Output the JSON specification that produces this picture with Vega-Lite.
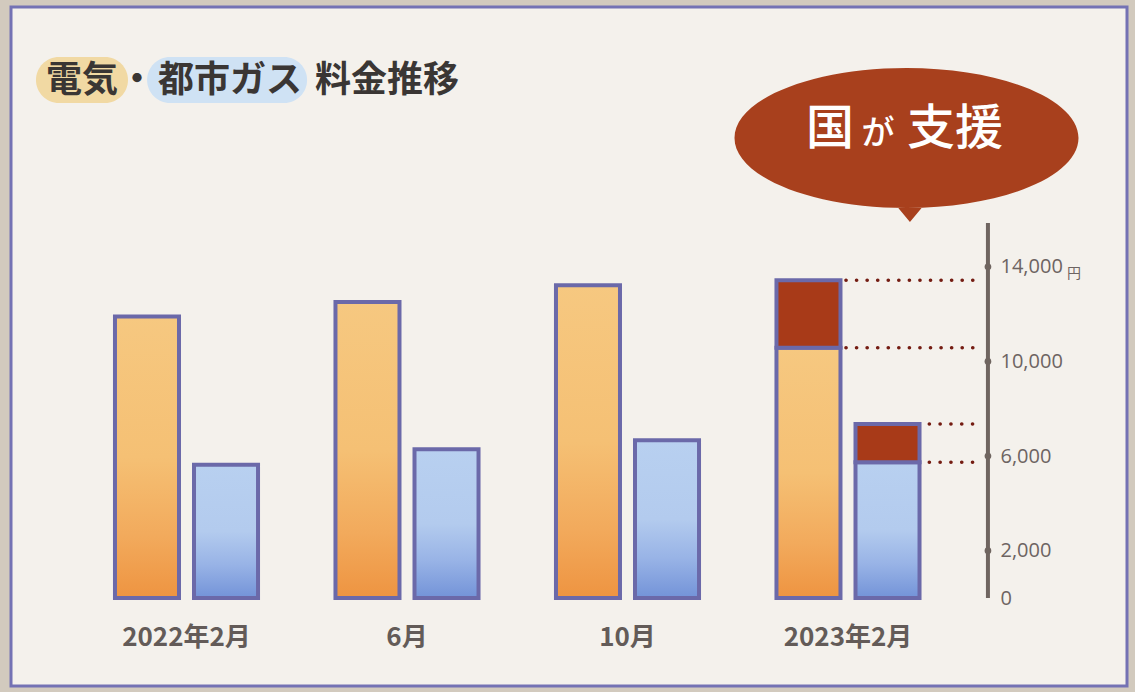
{
  "$schema": "https://vega.github.io/schema/vega-lite/v6.json",
  "width": 1116,
  "height": 679,
  "autosize": {"type": "none"},
  "padding": {"left": 11, "top": 7, "right": 8, "bottom": 6},
  "background": "#d2cabe",
  "config": {
    "view": {"fill": "#f4f1ec", "stroke": "#7472b4", "strokeWidth": 3},
    "axis": {"grid": false}
  },
  "datasets": {
    "bars": [
      {"month": "2022年2月", "kind": "電気", "part": "料金", "value": 11900},
      {"month": "2022年2月", "kind": "都市ガス", "part": "料金", "value": 5630},
      {"month": "6月", "kind": "電気", "part": "料金", "value": 12510},
      {"month": "6月", "kind": "都市ガス", "part": "料金", "value": 6285},
      {"month": "10月", "kind": "電気", "part": "料金", "value": 13215},
      {"month": "10月", "kind": "都市ガス", "part": "料金", "value": 6665},
      {"month": "2023年2月", "kind": "電気", "part": "料金", "value": 10580},
      {"month": "2023年2月", "kind": "電気", "part": "支援", "value": 2848},
      {"month": "2023年2月", "kind": "都市ガス", "part": "料金", "value": 5735},
      {"month": "2023年2月", "kind": "都市ガス", "part": "支援", "value": 1619}
    ],
    "ticks": [{"value": 2000}, {"value": 6000}, {"value": 10000}, {"value": 14000}],
    "one": [{}]
  },
  "layer": [
    {
      "data": {"name": "one"},
      "mark": {"type": "point", "shape": "M -0.5 -0.5 L 0.5 -0.5 A 0.5 0.5 0 0 1 0.5 0.5 L -0.5 0.5 A 0.5 0.5 0 0 1 -0.5 -0.5 Z", "size": 8464, "filled": true, "fill": "#f1d9a3", "opacity": 1, "strokeWidth": 0},
      "encoding": {
        "x": {"datum": "2022年2月", "type": "nominal", "bandPosition": -0.211, "axis": {"title": null}},
        "y": {"datum": 21893, "type": "quantitative", "axis": {"title": null}}
      }
    },
    {
      "data": {"name": "one"},
      "mark": {"type": "point", "shape": "M -0.7125 -0.2875 L 0.7125 -0.2875 A 0.2875 0.2875 0 0 1 0.7125 0.2875 L -0.7125 0.2875 A 0.2875 0.2875 0 0 1 -0.7125 -0.2875 Z", "size": 25600, "filled": true, "fill": "#cfe2f4", "opacity": 1, "strokeWidth": 0},
      "encoding": {
        "x": {"datum": "2022年2月", "type": "nominal", "bandPosition": 0.776, "axis": {"title": null}},
        "y": {"datum": 21893, "type": "quantitative", "axis": {"title": null}}
      }
    },
    {
      "data": {"name": "one"},
      "mark": {"type": "text", "text": "電気", "align": "left", "baseline": "middle", "font": "Noto Sans CJK JP", "fontWeight": "bold", "fontSize": 36, "color": "#3a3634"},
      "encoding": {
        "x": {"datum": "2022年2月", "type": "nominal", "bandPosition": -0.456, "axis": {"title": null}},
        "y": {"datum": 21850, "type": "quantitative", "axis": {"title": null}}
      }
    },
    {
      "data": {"name": "one"},
      "mark": {"type": "text", "text": "・", "align": "center", "baseline": "middle", "font": "Noto Sans CJK JP", "fontWeight": "bold", "fontSize": 36, "color": "#3a3634"},
      "encoding": {
        "x": {"datum": "2022年2月", "type": "nominal", "bandPosition": 0.163, "axis": {"title": null}},
        "y": {"datum": 21850, "type": "quantitative", "axis": {"title": null}}
      }
    },
    {
      "data": {"name": "one"},
      "mark": {"type": "text", "text": "都市ガス", "align": "left", "baseline": "middle", "font": "Noto Sans CJK JP", "fontWeight": "bold", "fontSize": 36, "color": "#3a3634"},
      "encoding": {
        "x": {"datum": "2022年2月", "type": "nominal", "bandPosition": 0.306, "axis": {"title": null}},
        "y": {"datum": 21850, "type": "quantitative", "axis": {"title": null}}
      }
    },
    {
      "data": {"name": "one"},
      "mark": {"type": "text", "text": "料金推移", "align": "left", "baseline": "middle", "font": "Noto Sans CJK JP", "fontWeight": "bold", "fontSize": 36, "color": "#3a3634"},
      "encoding": {
        "x": {"datum": "2022年2月", "type": "nominal", "bandPosition": 1.374, "axis": {"title": null}},
        "y": {"datum": 21850, "type": "quantitative", "axis": {"title": null}}
      }
    },
    {
      "data": {"name": "one"},
      "mark": {"type": "point", "shape": "M -1 0 A 1 0.407 0 1 1 1 0 A 1 0.407 0 1 1 -1 0 Z M 0.095 0.398 L 0.02 0.488 L -0.055 0.398 Z", "size": 118336, "filled": true, "fill": "#a8401d", "opacity": 1, "strokeWidth": 0},
      "encoding": {
        "x": {"datum": "2023年2月", "type": "nominal", "bandPosition": 0.898, "axis": {"title": null}},
        "y": {"datum": 19442, "type": "quantitative", "axis": {"title": null}}
      }
    },
    {
      "data": {"name": "one"},
      "mark": {"type": "text", "text": "国", "align": "center", "baseline": "middle", "font": "Noto Sans CJK JP", "fontWeight": 500, "fontSize": 48, "color": "#ffffff"},
      "encoding": {
        "x": {"datum": "2023年2月", "type": "nominal", "bandPosition": 0.377, "axis": {"title": null}},
        "y": {"datum": 19801, "type": "quantitative", "axis": {"title": null}}
      }
    },
    {
      "data": {"name": "one"},
      "mark": {"type": "text", "text": "が", "align": "center", "baseline": "middle", "font": "Noto Sans CJK JP", "fontWeight": 500, "fontSize": 33, "color": "#ffffff"},
      "encoding": {
        "x": {"datum": "2023年2月", "type": "nominal", "bandPosition": 0.704, "axis": {"title": null}},
        "y": {"datum": 19611, "type": "quantitative", "axis": {"title": null}}
      }
    },
    {
      "data": {"name": "one"},
      "mark": {"type": "text", "text": "支援", "align": "center", "baseline": "middle", "font": "Noto Sans CJK JP", "fontWeight": 500, "fontSize": 48, "color": "#ffffff"},
      "encoding": {
        "x": {"datum": "2023年2月", "type": "nominal", "bandPosition": 1.228, "axis": {"title": null}},
        "y": {"datum": 19801, "type": "quantitative", "axis": {"title": null}}
      }
    },
    {
      "data": {"name": "bars"},
      "transform": [
        {"stack": "value", "groupby": ["month", "kind"], "sort": [{"field": "part", "order": "descending"}], "as": ["y0", "y1"]},
        {"filter": "datum.kind == '電気' && datum.part == '料金'"}
      ],
      "mark": {"type": "bar", "stroke": "#6b69a9", "strokeWidth": 4, "strokeJoin": "miter",
        "fill": {"gradient": "linear", "x1": 0, "y1": 0, "x2": 0, "y2": 1, "stops": [
          {"offset": 0, "color": "#f6c880"}, {"offset": 0.5, "color": "#f5c074"}, {"offset": 0.78, "color": "#f2aa5c"}, {"offset": 1, "color": "#ee9441"}]}},
      "encoding": {
        "x": {"field": "month", "type": "nominal", "sort": null,
          "scale": {"domain": ["2022年2月", "6月", "10月", "2023年2月"], "paddingInner": 0.3333, "paddingOuter": 0.6973, "align": 0.3317},
          "axis": {"title": null, "orient": "bottom", "offset": -88, "domain": false, "ticks": false, "labelAngle": 0, "labelAlign": "center", "bandPosition": 0.5, "labelPadding": 39, "labelBaseline": "middle", "labelFont": "Noto Sans CJK JP", "labelFontSize": 26, "labelFontWeight": "bold", "labelColor": "#635b58"}},
        "xOffset": {"field": "kind", "type": "nominal", "scale": {"domain": ["電気", "都市ガス"], "paddingInner": 0.19, "paddingOuter": 0.025}},
        "y": {"field": "y1", "type": "quantitative", "scale": {"domain": [-3719, 24979], "nice": false, "zero": false},
          "axis": {"title": null, "orient": "right", "offset": -139, "domain": false, "ticks": false, "values": [0, 2000, 6000, 10000, 14000], "labelExpr": "format(datum.value, ',')", "labelAlign": "left", "labelBaseline": "middle", "labelPadding": 12, "labelFont": "Open Sans", "labelFontSize": 20, "labelColor": "#6d6462"}},
        "y2": {"field": "y0"}
      }
    },
    {
      "data": {"name": "bars"},
      "transform": [
        {"stack": "value", "groupby": ["month", "kind"], "sort": [{"field": "part", "order": "descending"}], "as": ["y0", "y1"]},
        {"filter": "datum.kind == '都市ガス' && datum.part == '料金'"}
      ],
      "mark": {"type": "bar", "stroke": "#6b69a9", "strokeWidth": 4, "strokeJoin": "miter",
        "fill": {"gradient": "linear", "x1": 0, "y1": 0, "x2": 0, "y2": 1, "stops": [
          {"offset": 0, "color": "#b8d0f0"}, {"offset": 0.5, "color": "#b3cbee"}, {"offset": 0.75, "color": "#98b3e6"}, {"offset": 1, "color": "#7393d8"}]}},
      "encoding": {
        "x": {"field": "month", "type": "nominal", "sort": null, "scale": {"domain": ["2022年2月", "6月", "10月", "2023年2月"], "paddingInner": 0.3333, "paddingOuter": 0.6973, "align": 0.3317}, "axis": {"title": null}},
        "xOffset": {"field": "kind", "type": "nominal", "scale": {"domain": ["電気", "都市ガス"], "paddingInner": 0.19, "paddingOuter": 0.025}},
        "y": {"field": "y1", "type": "quantitative", "scale": {"domain": [-3719, 24979], "nice": false, "zero": false}, "axis": {"title": null}},
        "y2": {"field": "y0"}
      }
    },
    {
      "data": {"name": "bars"},
      "transform": [
        {"stack": "value", "groupby": ["month", "kind"], "sort": [{"field": "part", "order": "descending"}], "as": ["y0", "y1"]},
        {"filter": "datum.part == '支援'"}
      ],
      "mark": {"type": "bar", "stroke": "#6b69a9", "strokeWidth": 4, "strokeJoin": "miter", "fill": "#a83a18"},
      "encoding": {
        "x": {"field": "month", "type": "nominal", "sort": null, "scale": {"domain": ["2022年2月", "6月", "10月", "2023年2月"], "paddingInner": 0.3333, "paddingOuter": 0.6973, "align": 0.3317}, "axis": {"title": null}},
        "xOffset": {"field": "kind", "type": "nominal", "scale": {"domain": ["電気", "都市ガス"], "paddingInner": 0.19, "paddingOuter": 0.025}},
        "y": {"field": "y1", "type": "quantitative", "scale": {"domain": [-3719, 24979], "nice": false, "zero": false}, "axis": {"title": null}},
        "y2": {"field": "y0"}
      }
    },
    {
      "data": {"name": "bars"},
      "transform": [
        {"stack": "value", "groupby": ["month", "kind"], "sort": [{"field": "part", "order": "descending"}], "as": ["y0", "y1"]},
        {"filter": "datum.month == '2023年2月' && datum.kind == '電気'"}
      ],
      "mark": {"type": "rule", "color": "#741c12", "strokeWidth": 3.6, "strokeCap": "round", "strokeDash": [0.1, 10.46]},
      "encoding": {
        "x": {"datum": "2023年2月", "type": "nominal", "bandPosition": 0.4864, "axis": {"title": null}},
        "x2": {"datum": "2023年2月", "bandPosition": 1.3537},
        "y": {"field": "y1", "type": "quantitative", "axis": {"title": null}}
      }
    },
    {
      "data": {"name": "bars"},
      "transform": [
        {"stack": "value", "groupby": ["month", "kind"], "sort": [{"field": "part", "order": "descending"}], "as": ["y0", "y1"]},
        {"filter": "datum.month == '2023年2月' && datum.kind == '都市ガス'"}
      ],
      "mark": {"type": "rule", "color": "#741c12", "strokeWidth": 3.6, "strokeCap": "round", "strokeDash": [0.1, 10.7]},
      "encoding": {
        "x": {"datum": "2023年2月", "type": "nominal", "bandPosition": 1.0531, "axis": {"title": null}},
        "x2": {"datum": "2023年2月", "bandPosition": 1.3537},
        "y": {"field": "y1", "type": "quantitative", "axis": {"title": null}}
      }
    },
    {
      "data": {"name": "one"},
      "mark": {"type": "rule", "color": "#6f6560", "strokeWidth": 4},
      "encoding": {
        "x": {"datum": "2023年2月", "type": "nominal", "bandPosition": 1.452, "axis": {"title": null}},
        "y": {"datum": 0, "type": "quantitative", "axis": {"title": null}},
        "y2": {"datum": 15850}
      }
    },
    {
      "data": {"name": "ticks"},
      "mark": {"type": "point", "shape": "circle", "filled": true, "color": "#6f6560", "size": 45, "opacity": 1},
      "encoding": {
        "x": {"datum": "2023年2月", "type": "nominal", "bandPosition": 1.452, "axis": {"title": null}},
        "y": {"field": "value", "type": "quantitative", "axis": {"title": null}}
      }
    },
    {
      "data": {"name": "one"},
      "mark": {"type": "text", "text": "円", "align": "center", "baseline": "middle", "font": "Noto Sans CJK JP", "fontSize": 14, "color": "#6d6462"},
      "encoding": {
        "x": {"datum": "2023年2月", "type": "nominal", "bandPosition": 2.037, "axis": {"title": null}},
        "y": {"datum": 13715, "type": "quantitative", "axis": {"title": null}}
      }
    }
  ]
}
